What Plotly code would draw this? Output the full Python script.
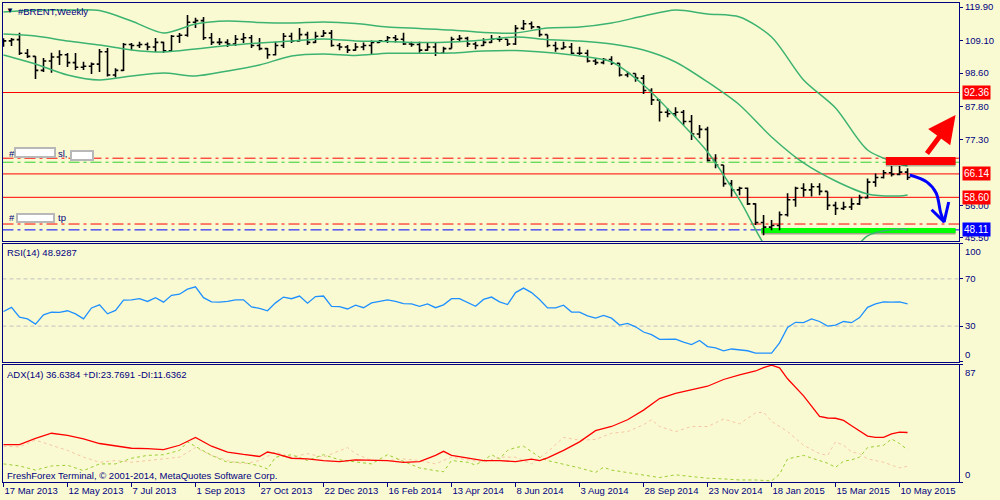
import pandas as pd
import plotly.graph_objects as go
from plotly.subplots import make_subplots

# weekly bars, first bar = week of 17 Mar 2013
weeks = pd.date_range("2013-03-17", periods=114, freq="7D")

highs = [109.8, 109.9, 111.6, 106.4, 104.0, 103.5, 105.2, 106.0, 105.1, 105.1,
         102.3, 102.0, 106.4, 106.7, 100.2, 108.3, 108.3, 108.7, 108.5, 109.9,
         108.7, 110.9, 111.5, 117.3, 116.4, 116.7, 111.5, 109.9, 109.5, 110.9,
         111.5, 110.9, 109.9, 106.7, 108.7, 111.5, 111.6, 113.1, 111.9, 111.9,
         112.5, 112.5, 108.3, 107.7, 108.3, 108.5, 109.1, 109.3, 110.6, 110.9,
         111.6, 108.7, 108.7, 108.5, 108.4, 107.1, 110.3, 110.9, 110.3, 108.7,
         109.8, 110.9, 110.6, 109.5, 114.1, 115.7, 115.2, 113.5, 111.0, 108.7,
         108.7, 108.3, 107.1, 106.1, 103.4, 103.5, 104.0, 101.8, 99.1, 98.5,
         98.0, 93.7, 90.2, 87.4, 87.6, 86.7, 85.1, 81.9, 81.3, 72.5,
         69.0, 64.2, 62.0, 61.8, 56.7, 52.9, 51.3, 54.0, 59.9, 62.0,
         63.1, 63.1, 63.1, 60.5, 57.2, 57.2, 58.3, 59.4, 64.7, 66.3,
         67.4, 68.7, 68.7, 68.0]
lows = [107.1, 107.3, 104.4, 103.5, 96.7, 99.0, 98.7, 101.2, 100.6, 99.6,
        99.6, 98.3, 99.0, 97.5, 97.2, 99.3, 106.0, 106.7, 106.0, 105.4,
        105.1, 105.6, 108.3, 110.3, 113.1, 109.3, 107.7, 107.7, 107.0, 107.3,
        108.3, 106.7, 106.0, 103.2, 104.3, 106.7, 108.3, 108.8, 107.7, 108.3,
        110.4, 107.1, 106.0, 105.1, 105.8, 106.0, 104.8, 108.3, 108.3, 108.5,
        107.7, 107.1, 105.2, 105.8, 104.1, 104.8, 106.5, 108.7, 107.0, 106.3,
        107.3, 108.3, 108.7, 107.3, 107.7, 112.5, 112.7, 110.3, 106.9, 105.5,
        106.3, 104.8, 104.4, 102.0, 101.2, 101.5, 101.2, 97.5, 97.3, 95.8,
        91.9, 88.3, 83.0, 84.4, 84.4, 81.9, 77.1, 77.6, 70.1, 68.0,
        62.0, 58.8, 59.3, 56.1, 49.7, 46.4, 48.0, 48.0, 52.4, 55.6,
        58.8, 58.9, 59.3, 54.5, 52.9, 54.5, 54.5, 56.1, 58.2, 62.0,
        64.7, 65.3, 65.7, 64.2]
closes = [109.0, 109.4, 105.0, 104.0, 99.5, 102.5, 103.8, 104.5, 102.0, 100.5,
          100.8, 101.5, 105.5, 98.0, 99.5, 107.8, 107.5, 107.8, 107.0, 108.5,
          105.8, 110.5, 110.8, 115.0, 115.5, 110.0, 108.5, 108.5, 108.0, 109.5,
          110.0, 107.5, 106.5, 104.5, 107.5, 110.5, 109.0, 111.0, 108.5, 110.5,
          111.5, 107.5, 107.0, 106.0, 107.0, 107.5, 108.5, 109.0, 110.0, 109.5,
          108.0, 107.8, 106.0, 107.0, 105.0, 106.5, 109.5, 109.8, 108.0, 107.5,
          108.5, 109.5, 109.5, 108.0, 113.0, 114.5, 113.5, 111.0, 107.5, 106.5,
          107.0, 105.0, 105.0, 102.5, 102.0, 103.0, 101.8, 98.0, 98.5, 97.0,
          93.0, 90.0, 86.0, 85.5, 86.0, 83.0, 79.0, 80.5, 70.5, 69.0,
          63.0, 61.0, 61.5, 56.5, 50.5, 49.0, 49.5, 53.0, 57.8, 61.5,
          61.0, 62.0, 60.5, 56.0, 55.0, 55.5, 56.5, 58.5, 63.5, 65.0,
          66.5, 66.0, 66.7, 65.0]
opens = [108.0] + closes[:-1]

# Bollinger bands (20), read every 4th bar
band_idx = [0, 4, 8, 12, 16, 20, 24, 28, 32, 36, 40, 44, 48, 52, 56,
            60, 64, 68, 72, 76, 80, 84, 88, 92, 96, 100, 104, 108, 112, 113]
bb_upper = [118.29, 118.93, 118.93, 118.77, 115.39, 111.53, 114.43, 115.39, 114.91, 114.75,
            115.07, 114.59, 113.46, 112.98, 112.49, 111.69, 111.53, 113.14, 113.46, 114.75,
            117.0, 118.93, 117.65, 116.68, 110.24, 96.39, 87.37, 73.85, 69.34, 68.7]
bb_middle = [111.2, 110.56, 108.95, 107.66, 106.05, 105.41, 106.37, 107.5, 108.31, 108.95,
             109.6, 108.95, 108.79, 108.47, 108.63, 109.27, 110.24, 109.43, 108.95, 107.98,
             106.05, 102.19, 95.75, 88.34, 78.04, 69.67, 63.87, 59.69, 59.04, 59.36]
bb_lower = [104.44, 101.54, 98.0, 96.39, 97.68, 98.65, 97.68, 99.29, 101.22, 104.12,
            104.76, 104.28, 104.99, 104.99, 105.09, 105.73, 105.89, 105.25, 104.12, 102.19,
            94.78, 84.47, 73.21, 57.76, 40.05, 33.6, 35.2, 46.17, 48.42, 48.1]

rsi = [42.4, 45.9, 37.5, 36.1, 31.7, 39.6, 41.9, 41.6, 43.0, 40.4,
       36.1, 45.4, 48.0, 40.4, 43.3, 52.0, 52.3, 53.2, 50.9, 54.1,
       50.3, 56.1, 57.0, 61.3, 63.3, 54.1, 50.6, 50.3, 50.9, 52.3,
       52.3, 46.2, 45.0, 43.0, 49.7, 54.6, 53.2, 55.5, 49.4, 55.0,
       55.5, 46.8, 46.5, 44.5, 47.7, 45.6, 49.7, 50.9, 52.3, 50.9,
       49.1, 48.8, 46.8, 48.8, 45.6, 48.0, 53.2, 53.2, 50.3, 46.8,
       52.6, 54.6, 50.6, 48.3, 58.4, 62.2, 58.4, 52.6, 45.4, 45.4,
       47.7, 41.9, 41.9, 38.7, 36.7, 39.0, 36.7, 30.9, 32.3, 29.4,
       25.0, 22.8, 18.7, 18.9, 18.9, 16.4, 14.3, 17.8, 12.6, 11.5,
       9.1, 10.6, 10.1, 9.1, 7.1, 7.1, 7.1, 15.8, 28.9, 33.2,
       32.9, 36.1, 33.9, 30.0, 30.9, 33.9, 32.9, 37.2, 45.9, 48.8,
       50.6, 50.3, 50.6, 48.93]

adx_idx = [0, 2, 4, 6, 8, 10, 12, 14, 16, 18, 20, 22, 24, 26, 28, 30, 32, 33, 34, 36,
           38, 40, 42, 44, 46, 48, 50, 52, 54, 55, 56, 58, 60, 62, 64, 66, 67, 68, 70, 72,
           74, 76, 78, 80, 82, 84, 86, 88, 90, 92, 94, 95, 96, 97, 98, 100, 102, 103, 104, 105,
           106, 107, 108, 109, 110, 111, 112, 113]
adx = [27.7, 27.7, 32.3, 36.1, 34.6, 32.0, 28.5, 26.7, 25.0, 24.7, 24.0, 27.2, 33.0, 26.5, 22.2, 20.4, 18.9, 22.2, 21.0, 17.6,
       17.1, 15.9, 15.1, 16.4, 15.9, 15.9, 14.6, 15.1, 19.7, 22.7, 19.7, 17.6, 15.9, 15.9, 15.1, 16.9, 15.9, 17.9, 23.4, 29.7,
       38.0, 41.1, 46.1, 53.2, 61.8, 65.6, 68.3, 70.9, 75.9, 79.4, 82.2, 84.7, 86.5, 84.5, 76.4, 63.8, 48.6, 47.4, 47.2, 45.6,
       41.6, 37.8, 34.0, 33.0, 33.0, 35.6, 37.0, 36.64]

pdi_idx = [0, 2, 4, 6, 8, 10, 12, 14, 16, 18, 20, 22, 23, 24, 26, 28, 30, 32, 33, 34,
           36, 38, 40, 42, 44, 46, 48, 50, 52, 54, 55, 56, 58, 59, 60, 61, 62, 63, 64, 65,
           66, 67, 68, 70, 72, 74, 75, 76, 78, 80, 82, 84, 86, 88, 90, 92, 94, 96, 97, 98,
           100, 102, 103, 104, 105, 106, 107, 108, 109, 110, 111, 112, 113]
plus_di = [13.4, 11.9, 8.8, 11.9, 12.4, 8.4, 13.4, 13.4, 17.6, 19.7, 20.2, 23.4, 29.7, 26.5, 19.7, 14.6, 14.6, 11.9, 9.6, 18.4,
           20.2, 15.9, 20.2, 16.4, 15.1, 13.4, 20.2, 15.4, 10.4, 8.4, 7.6, 15.9, 14.6, 12.6, 15.9, 20.2, 17.1, 23.4, 25.5, 26.5,
           22.2, 18.4, 15.9, 13.4, 10.4, 7.1, 10.9, 8.8, 7.1, 5.3, 3.3, 5.3, 3.8, 2.8, 2.3, 1.5, 1.5, 0.8, 5.8, 17.1,
           19.7, 15.9, 13.9, 10.9, 15.4, 16.4, 18.4, 25.5, 26.5, 27.2, 31.8, 28.5, 23.77]

mdi_idx = [0, 2, 4, 6, 8, 10, 12, 14, 16, 18, 20, 22, 24, 26, 28, 30, 32, 34, 36, 38,
           40, 42, 43, 44, 46, 48, 50, 52, 54, 56, 58, 60, 62, 64, 66, 68, 70, 72, 74, 76,
           78, 80, 81, 82, 84, 86, 88, 90, 92, 94, 95, 96, 98, 100, 102, 103, 104, 105, 106, 107,
           108, 110, 112, 113]
minus_di = [26.5, 26.0, 31.0, 27.2, 23.4, 18.4, 14.6, 15.9, 14.6, 15.9, 17.1, 18.4, 25.5, 19.7, 15.9, 13.4, 15.9, 22.2, 18.4, 21.0,
            18.4, 23.4, 25.5, 21.0, 15.9, 15.9, 17.1, 15.9, 13.4, 18.4, 16.4, 14.6, 18.4, 18.4, 13.4, 22.2, 33.0, 31.0, 31.5, 36.1,
            37.3, 42.4, 46.1, 41.1, 37.3, 41.1, 41.1, 46.6, 43.1, 51.2, 51.7, 44.9, 37.3, 27.2, 21.0, 19.7, 29.7, 27.2, 22.2, 21.0,
            17.1, 14.6, 10.4, 11.64]

# price levels drawn on chart
solid_levels = [92.36, 66.14, 58.60]
sl_red, sl_green = 71.20, 69.90
tp_red, tp_blue = 50.00, 48.11
price_ticks = [119.90, 109.10, 98.60, 87.80, 77.30, 56.00, 45.50]
date_ticks = weeks[::8]

# hand-drawn objects (dates, prices)
red_box = ("2015-04-28", "2015-06-28", 69.0, 71.6)
green_box = ("2015-01-09", "2015-06-28", 47.13, 48.74)
red_arrow = ("2015-06-02", 72.2, "2015-06-28", 85.1)
blue_curve_x = ["2015-05-19", "2015-06-03", "2015-06-11", "2015-06-15", "2015-06-18"]
blue_curve_y = [65.8, 63.5, 60.0, 53.6, 50.7]
blue_head_x = ["2015-06-07", "2015-06-18", "2015-06-22"]
blue_head_y = [54.6, 50.7, 57.1]

BG = "#fafad2"
NAVY = "#000080"
FONT = "Liberation Sans, Arial, sans-serif"
FS = 9.5

fig = make_subplots(rows=3, cols=1, shared_xaxes=True)

fig.add_trace(go.Ohlc(x=weeks, open=opens, high=highs, low=lows, close=closes,
                      increasing_line_color="black", decreasing_line_color="black",
                      line_width=1.6, tickwidth=0.35, hoverinfo="skip"), row=1, col=1)
for band in (bb_upper, bb_middle, bb_lower):
    fig.add_trace(go.Scatter(x=weeks[band_idx], y=band, mode="lines",
                             line=dict(color="#3cb371", width=1.5, shape="spline", smoothing=0.8),
                             hoverinfo="skip"), row=1, col=1)

# blue curved arrow
fig.add_trace(go.Scatter(x=pd.to_datetime(blue_curve_x), y=blue_curve_y, mode="lines",
                         line=dict(color="#0000ff", width=3, shape="spline")), row=1, col=1)
fig.add_trace(go.Scatter(x=pd.to_datetime(blue_head_x), y=blue_head_y, mode="lines",
                         line=dict(color="#0000ff", width=3)), row=1, col=1)

fig.add_trace(go.Scatter(x=weeks, y=rsi, mode="lines",
                         line=dict(color="#1e90ff", width=1.3)), row=2, col=1)

fig.add_trace(go.Scatter(x=weeks[mdi_idx], y=minus_di, mode="lines",
                         line=dict(color="#f5c6a5", width=1, dash="dot")), row=3, col=1)
fig.add_trace(go.Scatter(x=weeks[pdi_idx], y=plus_di, mode="lines",
                         line=dict(color="#9acd32", width=1, dash="dot")), row=3, col=1)
fig.add_trace(go.Scatter(x=weeks[adx_idx], y=adx, mode="lines",
                         line=dict(color="#ff0000", width=1.3)), row=3, col=1)

# shapes
DASHDOT = "11px,4px,3px,4px"
fig.add_shape(type="rect", xref="x", yref="y", x0=green_box[0], x1=green_box[1],
              y0=green_box[2] - 0.5, y1=green_box[3] - 0.3, fillcolor="rgba(0,0,0,0.35)",
              line_width=0, layer="below")
fig.add_shape(type="rect", xref="x", yref="y", x0=green_box[0], x1=green_box[1],
              y0=green_box[2], y1=green_box[3], fillcolor="#00ff00", line_width=0, layer="below")
for lv in solid_levels:
    fig.add_shape(type="line", xref="x domain", yref="y", x0=0, x1=1, y0=lv, y1=lv,
                  line=dict(color="#ff0000", width=1), layer="below")
for lv, col in ((sl_red, "#ff0000"), (sl_green, "#32cd32"), (tp_red, "#ff0000"), (tp_blue, "#0000ff")):
    fig.add_shape(type="line", xref="x domain", yref="y", x0=0, x1=1, y0=lv, y1=lv,
                  line=dict(color=col, width=1, dash=DASHDOT), layer="below")
for lv in (70, 30):
    fig.add_shape(type="line", xref="x2 domain", yref="y2", x0=0, x1=1, y0=lv, y1=lv,
                  line=dict(color="#c0c0c0", width=1, dash="4px,3px"), layer="below")
fig.add_shape(type="rect", xref="x", yref="y", x0=red_box[0], x1=red_box[1],
              y0=red_box[2] - 0.5, y1=red_box[3] - 0.4, fillcolor="rgba(0,0,0,0.3)", line_width=0)
fig.add_shape(type="rect", xref="x", yref="y", x0=red_box[0], x1=red_box[1],
              y0=red_box[2], y1=red_box[3], fillcolor="#ff0000", line_width=0)

# red arrow
fig.add_annotation(x=red_arrow[2], y=red_arrow[3], ax=red_arrow[0], ay=red_arrow[1],
                   xref="x", yref="y", axref="x", ayref="y", text="", showarrow=True,
                   arrowhead=2, arrowsize=1.1, arrowwidth=5, arrowcolor="#ff0000")

# blurred sl/tp labels
for x0, x1, y0, y1 in ((15, 55, 148, 157), (71, 93, 151, 160), (17, 54, 214, 222)):
    fig.add_shape(type="rect", xref="paper", yref="paper", x0=x0 / 1000, x1=x1 / 1000,
                  y0=1 - y1 / 500, y1=1 - y0 / 500, fillcolor="white",
                  line=dict(color="#b8b8b8", width=2))


def text(px, py, s, size=FS, color=NAVY, anchor="left"):
    fig.add_annotation(x=px / 1000, y=1 - py / 500, xref="paper", yref="paper", text=s,
                       showarrow=False, xanchor=anchor, yanchor="middle",
                       font=dict(family=FONT, size=size, color=color))


text(4, 10, "▼", size=8, color="#000040")
text(16, 11, "#BRENT,Weekly")
text(7, 153, "#")
text(56, 153, "sl,")
text(7, 218, "#")
text(56, 218, "tp")
text(5, 252, "RSI(14) 48.9287")
text(5, 374, "ADX(14) 36.6384 +DI:23.7691 -DI:11.6362")
text(5, 475, "FreshForex Terminal, © 2001-2014, MetaQuotes Software Corp.")

# right side value boxes
for lv, col in ((92.36, "#ff0000"), (66.14, "#ff0000"), (58.60, "#ff0000"), (48.11, "#0000ff")):
    fig.add_annotation(x=0.9615, y=lv, xref="paper", yref="y", text=f"{lv:.2f}",
                       showarrow=False, xanchor="left", yanchor="middle", bgcolor=col,
                       borderpad=1, font=dict(family=FONT, size=10, color="white"))
for lv, lab, yref, anchor in ((100, "100", "y2", "top"), (0, "0", "y2", "bottom"),
                              (87, "87", "y3", "top"), (0, "0", "y3", "bottom")):
    fig.add_annotation(x=0.9625, y=lv, xref="paper", yref=yref, text=lab, showarrow=False,
                       xanchor="left", yanchor=anchor, font=dict(family=FONT, size=FS, color=NAVY))

x_lo = weeks[0] - pd.Timedelta(hours=21)
x_hi = weeks[0] + pd.Timedelta(days=836)

axis_common = dict(showline=True, mirror=True, linecolor=NAVY, linewidth=1,
                   showgrid=False, zeroline=False, automargin=False)
ytick_common = dict(ticks="outside", ticklen=3, tickcolor=NAVY, side="right",
                    tickfont=dict(family=FONT, size=FS, color=NAVY))
fig.update_layout(
    width=1000, height=500, margin=dict(l=0, r=0, t=0, b=0),
    paper_bgcolor=BG, plot_bgcolor=BG, showlegend=False,
    font=dict(family=FONT, size=FS, color=NAVY),
    xaxis=dict(domain=[0.0025, 0.959], range=[x_lo, x_hi], rangeslider=dict(visible=False),
               showticklabels=False, ticks="", **axis_common),
    xaxis2=dict(domain=[0.0025, 0.959], range=[x_lo, x_hi], showticklabels=False, ticks="",
                **axis_common),
    xaxis3=dict(domain=[0.0025, 0.959], range=[x_lo, x_hi], tickvals=date_ticks,
                ticktext=[d.strftime("%-d %b %Y") for d in date_ticks], ticks="outside",
                ticklen=4, tickcolor=NAVY, ticklabelposition="outside right", tickangle=0,
                tickfont=dict(family=FONT, size=FS, color=NAVY),
                showticklabels=True, **axis_common),
    yaxis=dict(domain=[0.518, 0.995], range=[44.53, 121.35],
               tickvals=price_ticks, ticktext=[f"{v:.2f}" for v in price_ticks],
               **ytick_common, **axis_common),
    yaxis2=dict(domain=[0.277, 0.513], range=[0, 100],
                tickvals=[0, 30, 70, 100], ticktext=["", "30", "70", ""],
                **ytick_common, **axis_common),
    yaxis3=dict(domain=[0.036, 0.271], range=[0, 87],
                tickvals=[0, 87], ticktext=["", ""],
                **ytick_common, **axis_common),
)

# the page's default body margin would shift the 1000x500 figure out of the window
fig.write_html("out.html", config={"displayModeBar": False},
               post_script="document.body.style.margin='0';document.body.style.overflow='hidden';")
